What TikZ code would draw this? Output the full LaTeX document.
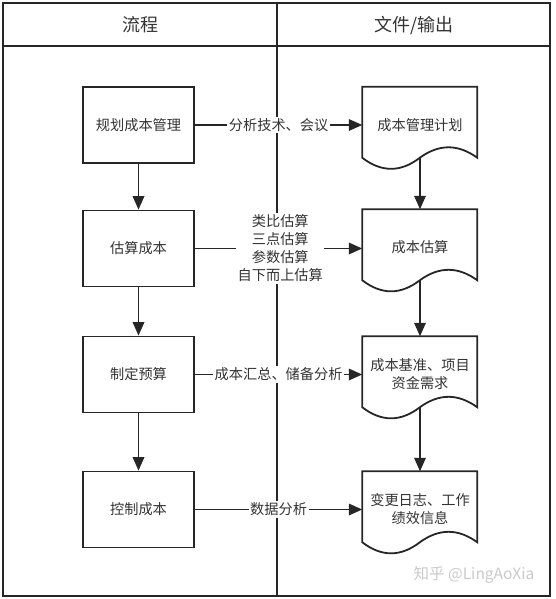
\documentclass[tikz,border=0pt]{standalone}
\usepackage{fontspec}
\setmainfont{Noto Sans CJK SC}
\usetikzlibrary{arrows.meta,calc}
\definecolor{ln}{HTML}{262626}
\definecolor{tx}{HTML}{333333}
\definecolor{wm}{HTML}{CACACA}
\tikzset{
  frame/.style={draw=ln,line width=2pt},
  txtfont/.style={font=\fontsize{14.2}{18}\selectfont,text=tx,align=center},
  procbox/.style={draw=ln,line width=1.8pt,minimum width=111pt,minimum height=76pt,inner sep=0pt,txtfont},
  docbox/.style={minimum width=115pt,minimum height=76pt,inner sep=0pt,txtfont},
  docline/.style={draw=ln,line width=1.8pt},
  flow/.style={draw=ln,line width=1.8pt,-{Triangle[length=13.5pt,width=11.5pt]}},
  lbl/.style={fill=white,inner sep=1.5pt,txtfont}
}
\newcommand\docwave[1]{%
  \begin{scope}[shift={(#1.north west)}]
    \draw[docline] (0,0) -- (115,0) -- (115,71)
      .. controls (95.8,57) and (76.7,57) .. (57.5,71)
      .. controls (38.3,85.7) and (19.2,85.7) .. (0,71) -- cycle;
  \end{scope}}
\begin{document}
\begin{tikzpicture}[x=1pt,y=-1pt]
  \useasboundingbox (0,0) rectangle (555,599);
  % frame
  \draw[frame] (2.5,3) rectangle (550,596);
  \draw[frame] (2.5,46.5) -- (550,46.5);
  \draw[frame] (277,3) -- (277,596);
  \node[font=\fontsize{18}{20}\selectfont,text=tx] (h1) at (140,25) {流程};
  \node[font=\fontsize{18}{20}\selectfont,text=tx] (h2) at (414,25) {文件/输出};

  % process boxes
  \node[procbox] (b1) at (138.5,125) {规划成本管理};
  \node[procbox] (b2) at (138.5,248.5) {估算成本};
  \node[procbox] (b3) at (138.5,374.5) {制定预算};
  \node[procbox] (b4) at (138.5,509.5) {控制成本};

  % documents
  \node[docbox] (d1) at (420,125) {成本管理计划};
  \node[docbox] (d2) at (420,247.5) {成本估算};
  \node[docbox] (d3) at (420,374.5) {成本基准、项目\\资金需求};
  \node[docbox] (d4) at (420,509.5) {变更日志、工作\\绩效信息};
  \docwave{d1}
  \docwave{d2}
  \docwave{d3}
  \docwave{d4}

  \coordinate (d1b) at ($(d1.north)+(0,71)$);
  \coordinate (d2b) at ($(d2.north)+(0,71)$);
  \coordinate (d3b) at ($(d3.north)+(0,71)$);

  % vertical flows
  \draw[flow] (b1.south) -- (b2.north);
  \draw[flow] (b2.south) -- (b3.north);
  \draw[flow] (b3.south) -- (b4.north);
  \draw[flow] (d1b) -- (d2.north);
  \draw[flow] (d2b) -- (d3.north);
  \draw[flow] (d3b) -- (d4.north);

  % horizontal flows
  \draw[flow] (b1.east) -- node[lbl] (l1) {分析技术、会议} (b1.east -| d1.west);
  \draw[flow] (b2.east) -- node[lbl,pos=0.51] (l2) {类比估算\\三点估算\\参数估算\\自下而上估算} (b2.east -| d2.west);
  \draw[flow] (b3.east) -- node[lbl,pos=0.5] (l3) {成本汇总、储备分析} (b3.east -| d3.west);
  \draw[flow] (b4.east) -- node[lbl] (l4) {数据分析} (b4.east -| d4.west);

  % watermark
  \node[font=\fontsize{15.5}{17}\selectfont,text=wm] (wmk) at (474,575) {知乎 @LingAoXia};
\end{tikzpicture}
\end{document}
